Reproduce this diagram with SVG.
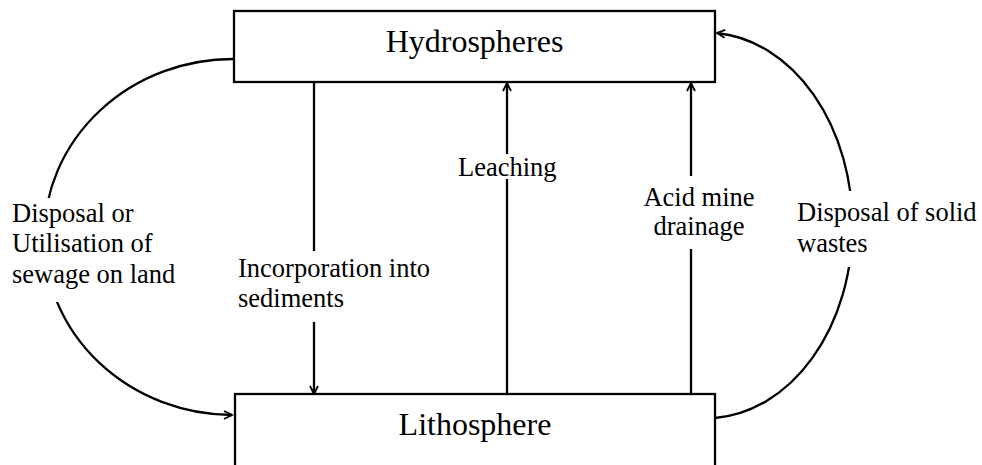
<svg xmlns="http://www.w3.org/2000/svg" width="982" height="465" viewBox="0 0 982 465">
<style>
.box{fill:#fff;stroke:#000;stroke-width:2.3}
.ttl{font-family:"Liberation Serif","Times New Roman",serif;font-size:32px;fill:#000;text-anchor:middle}
.lbl{font-family:"Liberation Serif","Times New Roman",serif;font-size:26.5px;fill:#000}
.con{fill:none;stroke:#000;stroke-width:2.3}
.bg{fill:#fff;stroke:none}
</style>
<defs>
<marker id="arr" markerUnits="userSpaceOnUse" markerWidth="12" markerHeight="12" refX="9" refY="5" orient="auto">
<path d="M1,1 L9,5 L1,9" fill="none" stroke="#000" stroke-width="1.8"/>
</marker>
</defs>
<rect width="982" height="465" fill="#fff"/>
<g id="connectors">
<path class="con" d="M234,59 A189,178 0 0 0 232,415" marker-end="url(#arr)"/>
<path class="con" d="M715,418 A147,193 0 0 0 717,33" marker-end="url(#arr)"/>
<line class="con" x1="314" y1="82" x2="314" y2="394" marker-end="url(#arr)"/>
<line class="con" x1="507" y1="395" x2="507" y2="83" marker-end="url(#arr)"/>
<line class="con" x1="691" y1="395" x2="691" y2="83" marker-end="url(#arr)"/>
</g>
<g id="hydrospheres">
<rect class="box" x="234" y="11" width="481" height="71"/>
<text class="ttl" x="474.5" y="52">Hydrospheres</text>
</g>
<g id="lithosphere">
<rect class="box" x="235" y="394" width="480" height="90"/>
<text class="ttl" x="475" y="435">Lithosphere</text>
</g>
<g id="labels">
<rect class="bg" x="10" y="198" width="168" height="104"/>
<text class="lbl" x="12" y="222">Disposal or</text>
<text class="lbl" x="12" y="252">Utilisation of</text>
<text class="lbl" x="12" y="283">sewage on land</text>
<rect class="bg" x="236" y="251" width="197" height="71"/>
<text class="lbl" x="238" y="277">Incorporation into</text>
<text class="lbl" x="238" y="307">sediments</text>
<rect class="bg" x="456" y="154" width="103" height="25"/>
<text class="lbl" x="458" y="176">Leaching</text>
<rect class="bg" x="641" y="176" width="116" height="73"/>
<text class="lbl" x="699" y="206" text-anchor="middle">Acid mine</text>
<text class="lbl" x="699" y="235" text-anchor="middle">drainage</text>
<rect class="bg" x="795" y="191" width="185" height="76"/>
<text class="lbl" x="797" y="221">Disposal of solid</text>
<text class="lbl" x="797" y="252">wastes</text>
</g>
</svg>
